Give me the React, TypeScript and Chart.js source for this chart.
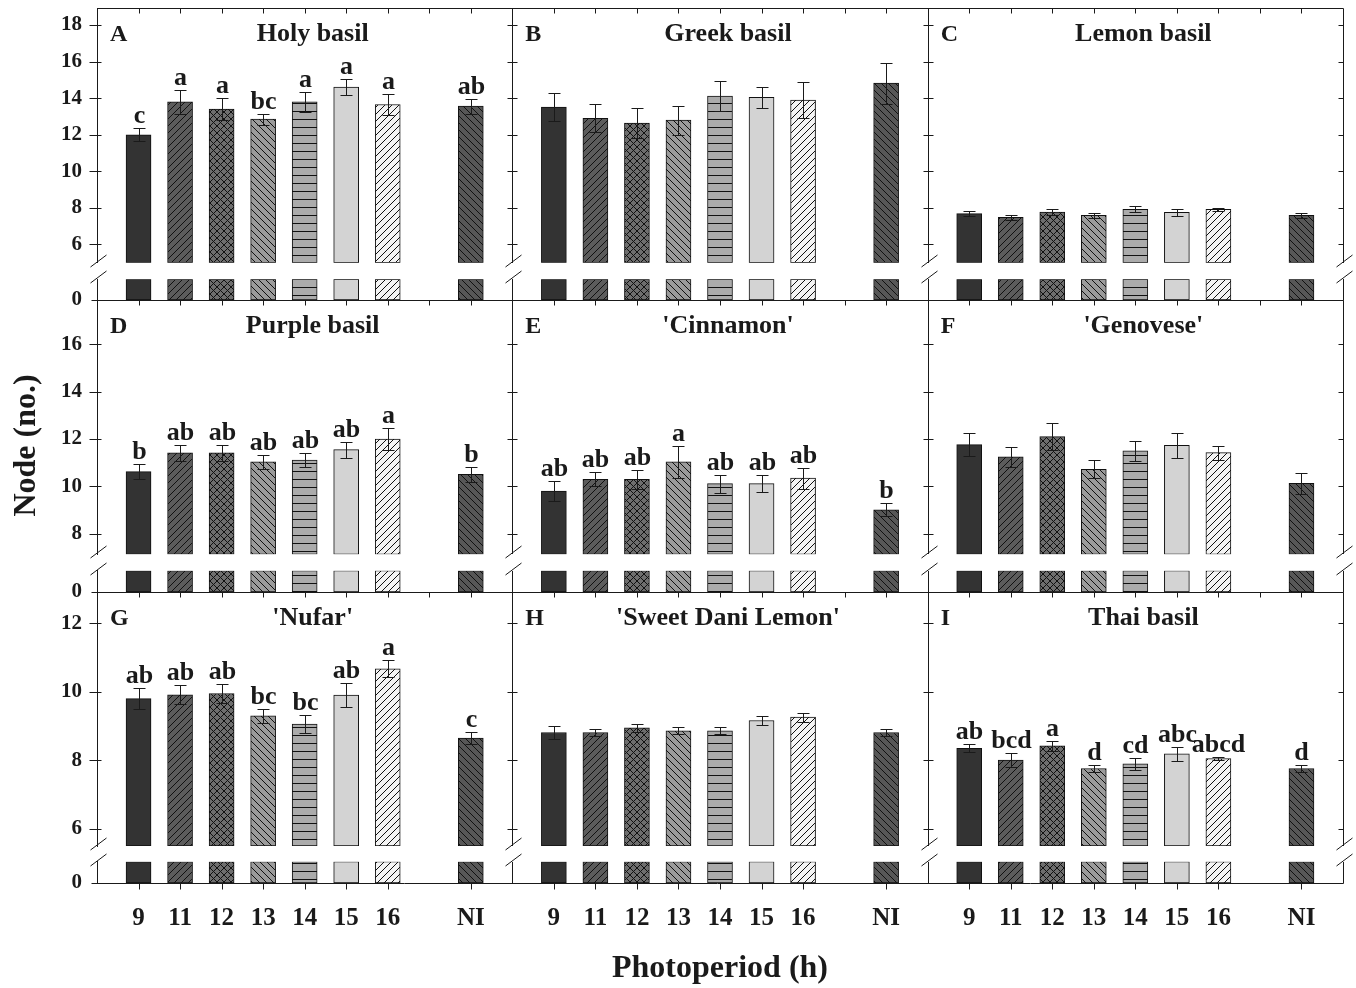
import { useEffect, useRef } from 'react';
import { Chart, registerables } from 'chart.js';

Chart.register(...registerables);

// ---------- data ----------
const photoperiodLabels = ['9', '11', '12', '13', '14', '15', '16', '', 'NI'];
const treatmentSlots = [1, 2, 3, 4, 5, 6, 7, 9]; // slot 8 is the empty gap before NI
const panelLetters = ['A', 'B', 'C', 'D', 'E', 'F', 'G', 'H', 'I'];
const panelTitles = ['Holy basil', 'Greek basil', 'Lemon basil', 'Purple basil', "'Cinnamon'", "'Genovese'", "'Nufar'", "'Sweet Dani Lemon'", 'Thai basil'];

const holyBasil = [12.0, 13.8, 13.4, 12.85, 13.8, 14.6, 13.65, 13.56];
const holyBasilSE = [0.37, 0.66, 0.6, 0.3, 0.55, 0.44, 0.58, 0.41];
const holyBasilSig = ['c', 'a', 'a', 'bc', 'a', 'a', 'a', 'ab'];

const greekBasil = [13.51, 12.9, 12.63, 12.8, 14.11, 14.05, 13.9, 14.82];
const greekBasilSE = [0.76, 0.76, 0.82, 0.79, 0.84, 0.58, 0.96, 1.12];

const lemonBasil = [7.68, 7.48, 7.77, 7.59, 7.92, 7.75, 7.92, 7.59];
const lemonBasilSE = [0.15, 0.15, 0.15, 0.13, 0.16, 0.18, 0.09, 0.15];

const purpleBasil = [10.62, 11.41, 11.41, 11.03, 11.11, 11.55, 11.99, 10.5];
const purpleBasilSE = [0.3, 0.35, 0.33, 0.31, 0.28, 0.34, 0.47, 0.32];
const purpleBasilSig = ['b', 'ab', 'ab', 'ab', 'ab', 'ab', 'a', 'b'];

const cinnamon = [9.8, 10.29, 10.29, 11.03, 10.11, 10.11, 10.34, 9.0];
const cinnamonSE = [0.42, 0.3, 0.4, 0.68, 0.38, 0.35, 0.45, 0.27];
const cinnamonSig = ['ab', 'ab', 'ab', 'a', 'ab', 'ab', 'ab', 'b'];

const genovese = [11.76, 11.24, 12.1, 10.72, 11.5, 11.73, 11.42, 10.12];
const genoveseSE = [0.48, 0.41, 0.58, 0.37, 0.43, 0.54, 0.3, 0.46];

const nufar = [9.8, 9.91, 9.95, 9.3, 9.06, 9.9, 10.67, 8.65];
const nufarSE = [0.31, 0.28, 0.28, 0.2, 0.26, 0.35, 0.25, 0.18];
const nufarSig = ['ab', 'ab', 'ab', 'bc', 'bc', 'ab', 'a', 'c'];

const sweetDaniLemon = [8.81, 8.81, 8.95, 8.86, 8.86, 9.16, 9.26, 8.81];
const sweetDaniLemonSE = [0.19, 0.1, 0.11, 0.1, 0.1, 0.12, 0.13, 0.1];

const thaiBasil = [8.35, 8.01, 8.42, 7.76, 7.9, 8.19, 8.05, 7.76];
const thaiBasilSE = [0.12, 0.2, 0.14, 0.09, 0.17, 0.21, 0.04, 0.09];
const thaiBasilSig = ['ab', 'bcd', 'a', 'd', 'cd', 'abc', 'abcd', 'd'];

const row1Ticks = [6, 8, 10, 12, 14, 16, 18];
const row2Ticks = [8, 10, 12, 14, 16];
const row3Ticks = [6, 8, 10, 12];

// ---------- assembly ----------
const panels: any[] = [
  { mean: holyBasil, se: holyBasilSE, sig: holyBasilSig },
  { mean: greekBasil, se: greekBasilSE, sig: null },
  { mean: lemonBasil, se: lemonBasilSE, sig: null },
  { mean: purpleBasil, se: purpleBasilSE, sig: purpleBasilSig },
  { mean: cinnamon, se: cinnamonSE, sig: cinnamonSig },
  { mean: genovese, se: genoveseSE, sig: null },
  { mean: nufar, se: nufarSE, sig: nufarSig },
  { mean: sweetDaniLemon, se: sweetDaniLemonSE, sig: null },
  { mean: thaiBasil, se: thaiBasilSE, sig: thaiBasilSig },
];

// axis settings per row: upper segment range, ticks, and stack weights (upper, gap, lower)
const rowAxes = [
  { min: 5, max: 18.93, ticks: row1Ticks, weights: [254.7, 16.6, 20.7] },
  { min: 7.12, max: 17.88, ticks: row2Ticks, weights: [254.3, 16.4, 21.3] },
  { min: 5.5, max: 12.91, ticks: row3Ticks, weights: [254, 15.7, 21.3] },
];

const xTickValues: number[] = [];
for (let c = 0; c < 3; c++) for (let s = 1; s <= 9; s++) xTickValues.push(c * 10 + s);

const FONT = '"Liberation Serif", "Times New Roman", serif';
const INK = '#1a1a1a';

const fillSpec = [
  { bg: '#333333', kind: 'none' },
  { bg: '#5c5c5c', kind: 'fwd' },
  { bg: '#6e6e6e', kind: 'cross' },
  { bg: '#9b9b9b', kind: 'back' },
  { bg: '#ababab', kind: 'horiz' },
  { bg: '#d3d3d3', kind: 'none' },
  { bg: '#f4f4f4', kind: 'fwd' },
  { bg: '#575757', kind: 'back' },
];

function makePattern(ctx: CanvasRenderingContext2D, bg: string, kind: string): any {
  if (kind === 'none') return bg;
  const s = kind === 'horiz' ? 8 : 7;
  const c = document.createElement('canvas');
  c.width = s;
  c.height = s;
  const g = c.getContext('2d') as CanvasRenderingContext2D;
  g.fillStyle = bg;
  g.fillRect(0, 0, s, s);
  g.strokeStyle = '#111';
  g.lineWidth = 1;
  g.beginPath();
  if (kind === 'fwd' || kind === 'cross') {
    for (const k of [-1, 0, 1]) { g.moveTo(k * s, s); g.lineTo(k * s + s, 0); }
  }
  if (kind === 'back' || kind === 'cross') {
    for (const k of [-1, 0, 1]) { g.moveTo(k * s, 0); g.lineTo(k * s + s, s); }
  }
  if (kind === 'horiz') { g.moveTo(0, s - 0.5); g.lineTo(s, s - 0.5); }
  g.stroke();
  return ctx.createPattern(c, 'repeat');
}

const decorPlugin = {
  id: 'panelDecor',
  afterDatasetsDraw(chart: any) {
    const ctx = chart.ctx;
    const xs = chart.scales.x;
    ctx.save();
    ctx.strokeStyle = INK;
    ctx.fillStyle = INK;
    ctx.lineWidth = 1;
    panels.forEach((p, idx) => {
      const r = Math.floor(idx / 3);
      const c = idx % 3;
      const ys = chart.scales[`y${r}hi`];
      p.mean.forEach((m: number, i: number) => {
        const px = Math.round(xs.getPixelForValue(c * 10 + treatmentSlots[i])) + 0.5;
        const yTop = Math.round(ys.getPixelForValue(m + p.se[i])) + 0.5;
        const yBot = Math.round(ys.getPixelForValue(m - p.se[i])) + 0.5;
        ctx.beginPath();
        ctx.moveTo(px, yTop); ctx.lineTo(px, yBot);
        ctx.moveTo(px - 6, yTop); ctx.lineTo(px + 6, yTop);
        ctx.moveTo(px - 6, yBot); ctx.lineTo(px + 6, yBot);
        ctx.stroke();
        if (p.sig) {
          ctx.font = `bold 26px ${FONT}`;
          ctx.textAlign = 'center';
          ctx.textBaseline = 'alphabetic';
          ctx.fillText(p.sig[i], px, yTop - 6);
        }
      });
    });
    ctx.restore();
  },
  afterDraw(chart: any) {
    const ctx = chart.ctx;
    const xs = chart.scales.x;
    const area = chart.chartArea;
    const colX = [0, 10, 20, 30].map((v) => Math.round(xs.getPixelForValue(v)) + 0.5);
    ctx.save();
    ctx.strokeStyle = INK;
    ctx.fillStyle = INK;
    ctx.lineWidth = 1;
    for (let r = 0; r < 3; r++) {
      const hi = chart.scales[`y${r}hi`];
      const lo = chart.scales[`y${r}lo`];
      const rowTop = Math.round(hi.top) + 0.5;
      const upBot = Math.round(hi.bottom);
      const loTop = Math.round(lo.top);
      const rowBot = Math.round(lo.bottom) + 0.5;
      ctx.beginPath();
      for (let k = 1; k < 4; k++) {
        ctx.moveTo(colX[k], rowTop); ctx.lineTo(colX[k], upBot);
        ctx.moveTo(colX[k], loTop); ctx.lineTo(colX[k], rowBot);
      }
      ctx.moveTo(colX[0], rowTop); ctx.lineTo(colX[3], rowTop);
      ctx.moveTo(colX[0] - 6, rowBot); ctx.lineTo(colX[3], rowBot);
      for (const v of xTickValues) {
        const px = Math.round(xs.getPixelForValue(v)) + 0.5;
        ctx.moveTo(px, rowTop); ctx.lineTo(px, rowTop + 5);
      }
      for (const v of rowAxes[r].ticks) {
        const py = Math.round(hi.getPixelForValue(v)) + 0.5;
        ctx.moveTo(colX[0] - 8, py); ctx.lineTo(colX[0] + 4, py);
        ctx.moveTo(colX[1] - 5, py); ctx.lineTo(colX[1] + 5, py);
        ctx.moveTo(colX[2] - 5, py); ctx.lineTo(colX[2] + 5, py);
        ctx.moveTo(colX[3] - 5, py); ctx.lineTo(colX[3], py);
      }
      for (let k = 0; k < 4; k++) {
        for (const by of [upBot, loTop]) {
          const cx = colX[k] + 1;
          const cy = by - 2;
          ctx.moveTo(cx - 8, cy + 6); ctx.lineTo(cx + 8, cy - 6);
        }
      }
      ctx.stroke();

      for (let c = 0; c < 3; c++) {
        const idx = r * 3 + c;
        const left = xs.getPixelForValue(c * 10);
        const center = xs.getPixelForValue(c * 10 + 5);
        ctx.textBaseline = 'alphabetic';
        ctx.font = `bold 26px ${FONT}`;
        ctx.textAlign = 'center';
        ctx.fillText(panelTitles[idx], center + 8, hi.top + 33);
        ctx.font = `bold 24px ${FONT}`;
        ctx.textAlign = 'left';
        ctx.fillText(panelLetters[idx], left + 13, hi.top + 33);
      }
    }
    ctx.beginPath();
    const bottom = Math.round(area.bottom) + 0.5;
    for (const v of xTickValues) {
      if (photoperiodLabels[(v - 1) % 10] === '') continue;
      const px = Math.round(xs.getPixelForValue(v)) + 0.5;
      ctx.moveTo(px, bottom); ctx.lineTo(px, bottom + 6);
    }
    ctx.stroke();
    ctx.translate(27, (area.top + area.bottom) / 2);
    ctx.rotate(-Math.PI / 2);
    ctx.font = `bold 32px ${FONT}`;
    ctx.textAlign = 'center';
    ctx.textBaseline = 'middle';
    ctx.fillText('Node (no.)', 0, 0);
    ctx.restore();
  },
};

function clearPadding(a: any) {
  a.paddingTop = 0;
  a.paddingBottom = 0;
  a.paddingLeft = 0;
  a.paddingRight = 0;
}

function buildScales() {
  const scales: any = {
    x: {
      type: 'linear',
      position: 'bottom',
      offset: false,
      min: 0,
      max: 30,
      afterBuildTicks: (a: any) => { a.ticks = xTickValues.map((v) => ({ value: v })); },
      afterFit: (a: any) => { a.height = 105; clearPadding(a); },
      grid: { display: false, drawTicks: false },
      border: { display: false },
      ticks: {
        autoSkip: false,
        maxRotation: 0,
        padding: 21,
        color: INK,
        font: { family: FONT, weight: 'bold', size: 25 },
        callback: (_v: any, i: number) => photoperiodLabels[i % 9],
      },
      title: {
        display: true,
        text: 'Photoperiod (h)',
        color: INK,
        font: { family: FONT, weight: 'bold', size: 32 },
        padding: { top: 0, bottom: 0 },
      },
    },
  };
  const tickFont = { family: FONT, weight: 'bold', size: 21 };
  for (let r = 2; r >= 0; r--) {
    const ax = rowAxes[r];
    scales[`y${r}lo`] = {
      type: 'linear', position: 'left', stack: 'rows', stackWeight: ax.weights[2],
      min: 0, max: ax.min,
      afterBuildTicks: (a: any) => { a.ticks = [{ value: 0 }]; },
      afterFit: (a: any) => { a.width = 40; clearPadding(a); },
      grid: { display: false, drawTicks: false },
      border: { display: true, color: INK, width: 1 },
      ticks: { padding: 15, color: INK, font: tickFont, autoSkip: false },
    };
    scales[`y${r}gap`] = {
      type: 'linear', position: 'left', stack: 'rows', stackWeight: ax.weights[1],
      min: 0, max: 1,
      afterFit: (a: any) => { a.width = 40; clearPadding(a); },
      grid: { display: false, drawTicks: false },
      border: { display: false },
      ticks: { display: false },
    };
    scales[`y${r}hi`] = {
      type: 'linear', position: 'left', stack: 'rows', stackWeight: ax.weights[0],
      min: ax.min, max: ax.max,
      afterBuildTicks: (a: any) => { a.ticks = ax.ticks.map((v) => ({ value: v })); },
      afterFit: (a: any) => { a.width = 40; clearPadding(a); },
      grid: { display: false, drawTicks: false },
      border: { display: true, color: INK, width: 1 },
      ticks: { padding: 15, color: INK, font: tickFont, autoSkip: false },
    };
  }
  return scales;
}

function buildDatasets(ctx: CanvasRenderingContext2D) {
  const fills = fillSpec.map((f) => makePattern(ctx, f.bg, f.kind));
  const datasets: any[] = [];
  for (let r = 0; r < 3; r++) {
    const upper: any[] = [];
    const lower: any[] = [];
    const colors: any[] = [];
    for (let c = 0; c < 3; c++) {
      const p = panels[r * 3 + c];
      p.mean.forEach((m: number, i: number) => {
        const x = c * 10 + treatmentSlots[i];
        upper.push({ x, y: [rowAxes[r].min, m] });
        lower.push({ x, y: [0, Math.min(m, rowAxes[r].min)] });
        colors.push(fills[i]);
      });
    }
    const common = {
      type: 'bar',
      xAxisID: 'x',
      backgroundColor: colors,
      borderColor: '#111',
      borderWidth: 1,
      borderSkipped: false,
      grouped: false,
      barThickness: 25,
    };
    datasets.push({ ...common, label: `row${r}-upper`, yAxisID: `y${r}hi`, data: upper });
    datasets.push({ ...common, label: `row${r}-lower`, yAxisID: `y${r}lo`, data: lower });
  }
  return datasets;
}

export default function App() {
  const ref = useRef<HTMLCanvasElement>(null);
  useEffect(() => {
    const canvas = ref.current as HTMLCanvasElement;
    const ctx = canvas.getContext('2d') as CanvasRenderingContext2D;
    const chart = new Chart(canvas, {
      type: 'bar',
      data: { datasets: buildDatasets(ctx) },
      options: {
        responsive: false,
        animation: false,
        devicePixelRatio: 1,
        layout: { padding: { left: 57, top: 8, right: 13, bottom: 0 } },
        plugins: { legend: { display: false }, tooltip: { enabled: false }, title: { display: false } },
        scales: buildScales(),
      },
      plugins: [decorPlugin],
    } as any);
    return () => chart.destroy();
  }, []);
  return (
    <div style={{ position: 'absolute', left: 0, top: 0, width: 1356, height: 988, background: '#fff' }}>
      <canvas ref={ref} width={1356} height={988} style={{ display: 'block', width: 1356, height: 988 }} />
    </div>
  );
}
